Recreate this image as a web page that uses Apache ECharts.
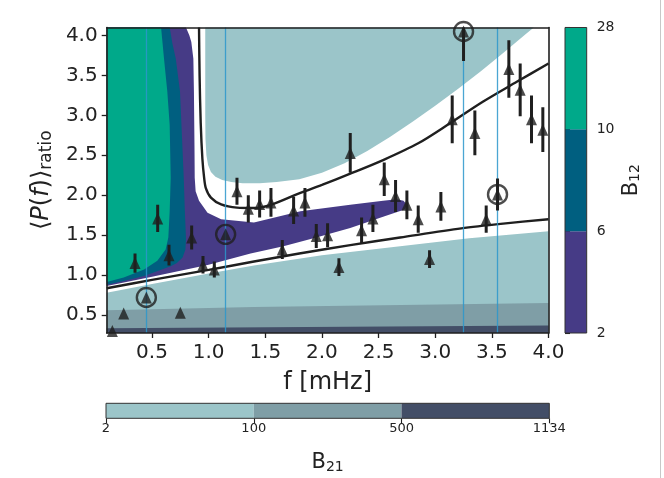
<!DOCTYPE html>
<html>
<head>
<meta charset="utf-8">
<script src="https://cdn.jsdelivr.net/npm/echarts@6/dist/echarts.min.js"></script>
<style>
  html, body { margin: 0; background: #fff; }
  #main { width: 664px; height: 478px; }
</style>
</head>
<body>
<div id="main"></div>
<script>
// axis ranges and ticks
const xMin = 0.1, xMax = 4.0
const yMin = 0.275, yMax = 4.1
const xTicks = [0.5, 1.0, 1.5, 2.0, 2.5, 3.0, 3.5, 4.0]
const yTicks = [0.5, 1.0, 1.5, 2.0, 2.5, 3.0, 3.5, 4.0]

// measured points (triangles) with half error bars
const ptX = [0.15, 0.25, 0.35, 0.45, 0.55, 0.65, 0.75, 0.85, 0.95, 1.05, 1.15, 1.25, 1.35, 1.45, 1.55, 1.65, 1.75, 1.85, 1.95, 2.05,
  2.15, 2.25, 2.35, 2.45, 2.55, 2.65, 2.75, 2.85, 2.95, 3.05, 3.15, 3.25, 3.35, 3.45, 3.55, 3.65, 3.75, 3.85, 3.95]
const ptY = [0.30, 0.52, 1.15, 0.72, 1.71, 1.25, 0.53, 1.47, 1.13, 1.07, 1.51, 2.05, 1.83, 1.89, 1.91, 1.32, 1.81, 1.91, 1.49, 1.50,
  1.10, 2.53, 1.56, 1.71, 2.20, 1.99, 1.88, 1.70, 1.20, 1.86, 2.95, 4.05, 2.78, 1.70, 2.01, 3.58, 3.32, 2.95, 2.82]
const ptErr = [0, 0, 0.12, 0, 0.17, 0.13, 0, 0.15, 0.11, 0.10, 0, 0.17, 0.17, 0.17, 0.18, 0.12, 0.17, 0.18, 0.15, 0.15,
  0.11, 0.25, 0.16, 0.17, 0.21, 0.20, 0.18, 0.17, 0.11, 0.18, 0.30, 0.37, 0.28, 0.17, 0.20, 0.36, 0.33, 0.30, 0.28]

// circled points + vertical marker lines
const circX = [0.45, 1.15, 3.25, 3.55]
const circY = [0.72, 1.51, 4.05, 2.01]
const vlineX = [0.45, 1.15, 3.25, 3.55]

// B21 bands (upper edges, filled down to the axis)
const b21Band1 = [[0.1, 0.78], [0.5, 0.89], [1.0, 1.02], [1.4, 1.12], [2.0, 1.25], [2.69, 1.36], [3.3, 1.46], [4.0, 1.55]]
const b21Band2 = [[0.1, 0.56], [1.4, 0.60], [2.7, 0.625], [4.0, 0.65]]
const b21Band3 = [[0.1, 0.335], [4.0, 0.37]]
// upper B21 region
const b21Upper = [[0.97, 4.1], [0.97, 3.0], [0.972, 2.7], [0.98, 2.5], [0.995, 2.38], [1.02, 2.29], [1.06, 2.23], [1.12, 2.19],
  [1.2, 2.165], [1.3, 2.15], [1.45, 2.15], [1.6, 2.165], [1.8, 2.2], [2.0, 2.28], [2.2, 2.4], [2.4, 2.555], [2.6, 2.73],
  [2.8, 2.92], [3.0, 3.12], [3.2, 3.33], [3.4, 3.55], [3.6, 3.78], [3.8, 4.02], [3.87, 4.1]]

// B12 regions
const b12Low = [[0.1, 4.1], [0.8, 4.1], [0.83, 4.0], [0.847, 3.92], [0.865, 3.71], [0.87, 3.3], [0.875, 2.6], [0.877, 2.22],
  [0.885, 2.05], [0.915, 1.93], [0.99, 1.78], [1.11, 1.70], [1.4, 1.66], [1.81, 1.80], [2.25, 1.88], [2.54, 1.93], [2.66, 1.95],
  [2.72, 1.93], [2.75, 1.88], [2.73, 1.82], [2.54, 1.73], [2.25, 1.59], [1.95, 1.47], [1.66, 1.36], [1.37, 1.27], [1.0, 1.13],
  [0.5, 0.98], [0.1, 0.865]]
const b12Mid = [[0.1, 4.1], [0.656, 4.1], [0.68, 3.9], [0.71, 3.71], [0.747, 3.3], [0.76, 2.88], [0.78, 2.22], [0.79, 1.80],
  [0.80, 1.45], [0.795, 1.32], [0.77, 1.22], [0.72, 1.15], [0.665, 1.11], [0.55, 1.05], [0.43, 0.99], [0.25, 0.925], [0.1, 0.88]]
const b12High = [[0.1, 4.1], [0.58, 4.1], [0.606, 3.71], [0.635, 3.30], [0.656, 2.88], [0.665, 2.22], [0.656, 1.80], [0.644, 1.47],
  [0.63, 1.38], [0.62, 1.32], [0.547, 1.18], [0.43, 1.07], [0.25, 0.97], [0.1, 0.915]]

// black curves
const curveLow = [[0.1, 0.835], [0.5, 0.94], [1.0, 1.065], [1.4, 1.17], [1.8, 1.27], [2.25, 1.375], [2.69, 1.47], [3.23, 1.585],
  [3.6, 1.645], [4.0, 1.70]]
const curveUp = [[0.915, 4.1], [0.92, 3.5], [0.93, 2.9], [0.945, 2.45], [0.96, 2.22], [0.975, 2.09], [1.02, 1.97], [1.11, 1.885],
  [1.25, 1.845], [1.4, 1.84], [1.55, 1.88], [1.81, 2.03], [2.0, 2.13], [2.25, 2.27], [2.54, 2.44], [2.85, 2.65], [3.13, 2.9],
  [3.42, 3.17], [3.72, 3.42], [4.0, 3.65]]

// colorbars
const b12Ticks = ['2', '6', '10', '28']
const b12Colors = ['#463b86', '#005f80', '#00a98a']
const b21Ticks = ['2', '100', '500', '1134']
const b21Colors = ['#9bc5c9', '#7f9ea6', '#434e67']

const ink = '#1f1f1f'
const font = 'DejaVu Sans'

function polySeries(pts, color) {
  return {
    type: 'custom', xAxisIndex: 0, yAxisIndex: 0, z: 2, silent: true,
    data: pts,
    renderItem: (params, api) => {
      if (params.dataIndex !== 0) return null
      return { type: 'polygon', shape: { points: pts.map(p => api.coord(p)) }, style: { fill: color } }
    }
  }
}

function bandSeries(pts, color) {
  return {
    type: 'line', xAxisIndex: 0, yAxisIndex: 0, z: 1, silent: true, showSymbol: false,
    data: pts, lineStyle: { width: 0 },
    areaStyle: { color: color, opacity: 1, origin: 'start' }
  }
}

function curveSeries(pts) {
  return {
    type: 'line', xAxisIndex: 0, yAxisIndex: 0, z: 4, silent: true, showSymbol: false, smooth: 0.3,
    data: pts, lineStyle: { color: ink, width: 2.4 }
  }
}

function cbarSeries(xi, yi, colors, vertical) {
  return {
    type: 'custom', xAxisIndex: xi, yAxisIndex: yi, silent: true,
    data: colors.map((c, i) => [i, i]),
    renderItem: (params, api) => {
      const i = params.dataIndex
      const a = vertical ? api.coord([0, i]) : api.coord([i, 0])
      const b = vertical ? api.coord([1, i + 1]) : api.coord([i + 1, 1])
      return {
        type: 'rect',
        shape: { x: Math.min(a[0], b[0]), y: Math.min(a[1], b[1]), width: Math.abs(b[0] - a[0]), height: Math.abs(b[1] - a[1]) },
        style: { fill: colors[i] }
      }
    }
  }
}

function cbarOutline(xi, yi, vertical) {
  return {
    type: 'custom', xAxisIndex: xi, yAxisIndex: yi, silent: true, z: 3,
    data: [[0, 0]],
    renderItem: (params, api) => {
      const a = api.coord([0, 0])
      const b = vertical ? api.coord([1, 3]) : api.coord([3, 1])
      return {
        type: 'rect',
        shape: { x: Math.min(a[0], b[0]), y: Math.min(a[1], b[1]), width: Math.abs(b[0] - a[0]), height: Math.abs(b[1] - a[1]) },
        style: { fill: 'none', stroke: '#333', lineWidth: 1 }
      }
    }
  }
}

const frameLine = { show: true, lineStyle: { color: ink, width: 1.6 } }

const myChart = echarts.init(document.getElementById('main'), null, { renderer: 'canvas' })

myChart.setOption({
  animation: false,
  backgroundColor: '#fff',
  textStyle: { fontFamily: font },
  grid: [
    { left: 106.7, top: 27.5, width: 441.8, height: 305.5 },
    { left: 565, top: 27.5, width: 21.7, height: 305.5 },
    { left: 106, top: 403.3, width: 443.3, height: 15 }
  ],
  xAxis: [
    {
      gridIndex: 0, type: 'value', min: xMin, max: xMax, position: 'bottom', z: 10,
      axisLine: frameLine,
      axisTick: { show: true, length: 5, customValues: xTicks, lineStyle: { color: ink, width: 1.3 } },
      axisLabel: { customValues: xTicks, formatter: v => v.toFixed(1), fontSize: 20, color: '#222', margin: 10, fontFamily: font },
      splitLine: { show: false },
      name: 'f [mHz]', nameLocation: 'middle', nameGap: 38,
      nameTextStyle: { fontSize: 24, color: '#222', fontFamily: font }
    },
    {
      gridIndex: 0, type: 'value', min: xMin, max: xMax, position: 'top', z: 10,
      axisLine: frameLine, axisTick: { show: false }, axisLabel: { show: false }, splitLine: { show: false }
    },
    { gridIndex: 1, type: 'value', min: 0, max: 1, show: false },
    {
      gridIndex: 2, type: 'value', min: 0, max: 3, position: 'bottom',
      axisLine: { show: false },
      axisTick: { show: true, length: 5, customValues: [0, 1, 2, 3], lineStyle: { color: ink, width: 1.1 } },
      axisLabel: { customValues: [0, 1, 2, 3], formatter: v => b21Ticks[v], fontSize: 13, color: '#222', margin: 4, fontFamily: font },
      splitLine: { show: false },
      name: '{b|B}{s|21}', nameLocation: 'middle', nameGap: 33,
      nameTextStyle: {
        color: '#222',
        rich: {
          b: { fontSize: 21, fontFamily: font, color: '#222' },
          s: { fontSize: 14, fontFamily: font, color: '#222', padding: [9, 0, 0, 0] }
        }
      }
    }
  ],
  yAxis: [
    {
      gridIndex: 0, type: 'value', min: yMin, max: yMax, position: 'left', z: 10,
      axisLine: frameLine,
      axisTick: { show: true, length: 5, customValues: yTicks, lineStyle: { color: ink, width: 1.3 } },
      axisLabel: { customValues: yTicks, formatter: v => v.toFixed(1), fontSize: 20, color: '#222', margin: 9, fontFamily: font },
      splitLine: { show: false },
      name: '{t|⟨}{i|P}{t|(}{i|f}{t|)⟩}{s|ratio}', nameLocation: 'middle', nameGap: 44, nameRotate: 90,
      nameTextStyle: {
        color: '#222',
        rich: {
          t: { fontSize: 24, fontFamily: font, color: '#222' },
          i: { fontSize: 24, fontFamily: font, fontStyle: 'italic', color: '#222' },
          s: { fontSize: 17, fontFamily: font, color: '#222', padding: [10, 0, 0, 0] }
        }
      }
    },
    {
      gridIndex: 0, type: 'value', min: yMin, max: yMax, position: 'right', z: 10,
      axisLine: frameLine, axisTick: { show: false }, axisLabel: { show: false }, splitLine: { show: false }
    },
    {
      gridIndex: 1, type: 'value', min: 0, max: 3, position: 'right',
      axisLine: { show: false },
      axisTick: { show: true, length: 5, customValues: [0, 1, 2, 3], lineStyle: { color: ink, width: 1.1 } },
      axisLabel: { customValues: [0, 1, 2, 3], formatter: v => b12Ticks[v], fontSize: 14, color: '#222', margin: 10, fontFamily: font },
      splitLine: { show: false },
      name: '{b|B}{s|12}', nameLocation: 'middle', nameGap: 33, nameRotate: 90,
      nameTextStyle: {
        color: '#222',
        rich: {
          b: { fontSize: 21, fontFamily: font, color: '#222' },
          s: { fontSize: 14, fontFamily: font, color: '#222', padding: [9, 0, 0, 0] }
        }
      }
    },
    { gridIndex: 2, type: 'value', min: 0, max: 1, show: false }
  ],
  graphic: [
    { type: 'line', shape: { x1: 660.5, y1: 0, x2: 660.5, y2: 478 }, style: { stroke: '#c8c8c8', lineWidth: 1 } }
  ],
  series: [
    bandSeries(b21Band1, b21Colors[0]),
    bandSeries(b21Band2, b21Colors[1]),
    bandSeries(b21Band3, b21Colors[2]),
    polySeries(b21Upper, b21Colors[0]),
    polySeries(b12Low, b12Colors[0]),
    polySeries(b12Mid, b12Colors[1]),
    polySeries(b12High, b12Colors[2]),
    curveSeries(curveLow),
    curveSeries(curveUp),
    { // error bars
      type: 'custom', xAxisIndex: 0, yAxisIndex: 0, z: 5, silent: true, clip: true,
      data: ptX.map((x, i) => [x, ptY[i], ptErr[i]]),
      encode: { x: 0, y: 1 },
      renderItem: (params, api) => {
        const x = api.value(0), y = api.value(1), e = api.value(2)
        if (!e) return null
        const a = api.coord([x, y - e])
        const b = api.coord([x, Math.min(y + e, yMax)])
        return { type: 'line', shape: { x1: a[0], y1: a[1], x2: b[0], y2: b[1] }, style: { stroke: ink, lineWidth: 3 } }
      }
    },
    { // vertical marker lines
      type: 'line', xAxisIndex: 0, yAxisIndex: 0, z: 6, silent: true, data: [],
      markLine: {
        silent: true, symbol: ['none', 'none'], label: { show: false },
        lineStyle: { type: 'solid', color: '#2b96cb', width: 1.3, opacity: 0.85 },
        data: vlineX.map(x => ({ xAxis: x }))
      }
    },
    {
      type: 'scatter', xAxisIndex: 0, yAxisIndex: 0, z: 7, silent: true,
      symbol: 'triangle', symbolSize: [11, 12],
      itemStyle: { color: ink },
      data: ptX.map((x, i) => [x, ptY[i]])
    },
    {
      type: 'scatter', xAxisIndex: 0, yAxisIndex: 0, z: 7, silent: true,
      symbol: 'circle', symbolSize: 19,
      itemStyle: { color: 'rgba(0,0,0,0)', borderColor: ink, borderWidth: 2.4 },
      data: circX.map((x, i) => [x, circY[i]])
    },
    cbarSeries(2, 2, b12Colors, true),
    cbarOutline(2, 2, true),
    cbarSeries(3, 3, b21Colors, false),
    cbarOutline(3, 3, false)
  ]
})
</script>
</body>
</html>
